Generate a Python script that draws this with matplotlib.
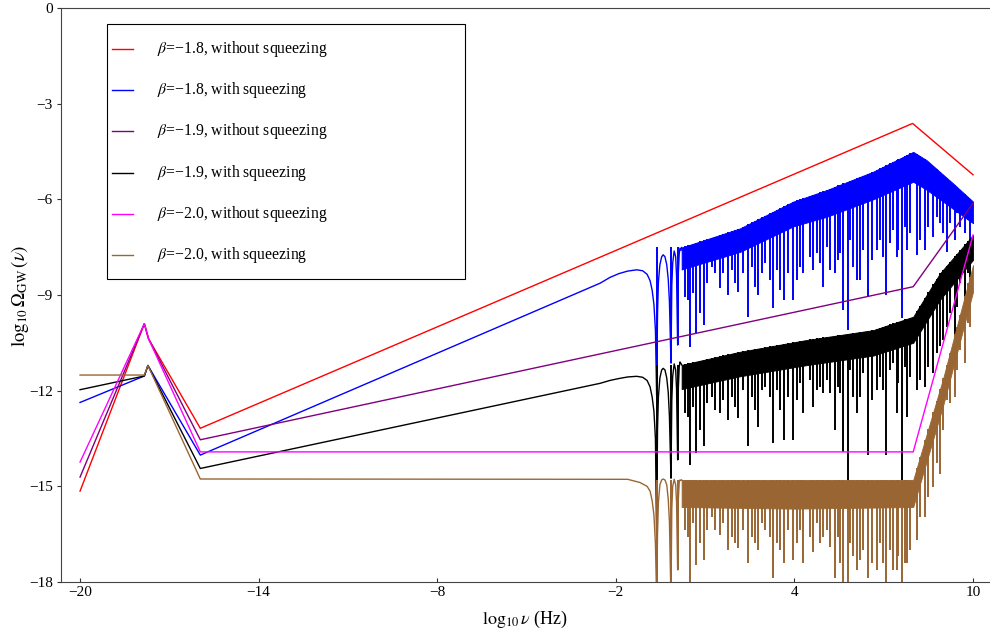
import numpy as np
import matplotlib
matplotlib.use('Agg')
import matplotlib.pyplot as plt
from matplotlib.patches import Rectangle

plt.rcParams['font.family'] = ['Liberation Serif', 'DejaVu Serif']
plt.rcParams['mathtext.fontset'] = 'stix'

# smooth parts (log10 nu, log10 Omega)
red_x = [-20, -17.84, -17.7, -15.96, 7.97, 10.0]
red_y = [-15.15, -9.9, -10.37, -13.18, -3.62, -5.23]
purple_x = [-20, -17.84, -17.7, -15.96, 7.99, 10.0]
purple_y = [-14.71, -9.9, -10.37, -13.54, -8.74, -6.12]
magenta_x = [-20, -17.84, -17.7, -15.96, 7.99, 10.0]
magenta_y = [-14.24, -9.9, -10.37, -13.92, -13.92, -7.12]

blue_x = [-20, -17.84, -17.72, -15.96, -2.53, -2.2, -1.9, -1.6, -1.3, -1.1, -0.95, -0.85, -0.78,
          -0.72, -0.67, -0.63, -0.6, -0.57, -0.52, -0.46, -0.41, -0.35, -0.29, -0.24, -0.2, -0.148,
          -0.12, -0.09, -0.04, 0.01, 0.04, 0.076, 0.1, 0.13, 0.155, 0.19, 0.21]
blue_y = [-12.37, -11.54, -11.21, -14.02, -8.63, -8.45, -8.33, -8.25, -8.21, -8.24, -8.35, -8.55,
          -8.85, -9.3, -10.1, -12.14, -9.6, -8.6, -8.05, -7.8, -7.74, -7.8, -8.05, -8.5, -9.2, -11.14,
          -8.7, -8.0, -7.62, -7.8, -8.4, -10.57, -8.3, -7.7, -7.53, -7.6, -7.51]
black_x = blue_x
black_y = [-11.97, -11.54, -11.21, -14.44, -11.77, -11.68, -11.62, -11.57, -11.55, -11.58, -11.68,
           -11.88, -12.2, -12.65, -13.5, -16.58, -13.2, -12.2, -11.6, -11.35, -11.3, -11.35, -11.6,
           -12.05, -12.8, -14.75, -12.3, -11.55, -11.16, -11.35, -11.95, -14.17, -11.9, -11.25,
           -11.1, -11.15, -11.19]
brown_x = [-20, -17.84, -17.72, -15.96, -1.6, -1.19, -0.95, -0.85, -0.78, -0.72, -0.67, -0.63,
           -0.6, -0.57, -0.52, -0.46, -0.41, -0.35, -0.29, -0.24, -0.2, -0.148, -0.12, -0.09,
           -0.04, 0.01, 0.04, 0.076, 0.1, 0.13, 0.155, 0.19, 0.21]
brown_y = [-11.51, -11.51, -11.21, -14.77, -14.78, -14.88, -15.0, -15.15, -15.45, -15.9, -16.8,
           -18.5, -16.5, -15.5, -14.95, -14.8, -14.77, -14.8, -14.95, -15.4, -16.1, -18.5, -15.7,
           -15.0, -14.78, -14.95, -15.5, -17.62, -15.4, -14.85, -14.8, -14.82, -14.8]

# oscillating bands: upper envelope and lower edge of the dense part
blue_band_x = [0.21, 2.17, 3.96, 5.08, 6.65, 7.99, 8.44, 9.33, 10.0]
blue_band_top = [-7.51, -6.91, -6.07, -5.71, -5.13, -4.51, -4.77, -5.50, -6.07]
blue_band_low = [-8.2, -7.65, -6.85, -6.55, -6.0, -5.45, -5.7, -6.3, -6.75]
black_band_x = [0.21, 2.17, 4.41, 6.65, 7.99, 8.89, 10.0]
black_band_top = [-11.19, -10.78, -10.41, -10.10, -9.68, -8.32, -7.12]
black_band_low = [-11.95, -11.55, -11.2, -10.9, -10.5, -9.15, -7.9]
brown_band_x = [0.21, 4.0, 7.99, 9.0, 10.0]
brown_band_top = [-14.8, -14.8, -14.8, -11.6, -8.06]
brown_band_low = [-15.65, -15.7, -15.65, -12.45, -8.9]

# deep dips (same positions for all squeezed curves)
spike_x = [-0.63, -0.148, 0.076, 0.49, 0.692, 0.972, 1.498, 1.778, 2.114, 2.45, 2.786, 3.29,
           3.648, 3.939, 4.298, 4.634, 4.97, 5.362, 5.641, 5.787, 6.202, 6.481, 6.761, 7.075,
           7.433, 7.601, 7.769, 8.105, 8.385, 8.665, 8.889, 9.113, 9.392, 9.728, 9.896]
blue_spike = [-12.14, -11.14, -10.57, -10.62, -10.2, -9.94, -8.79, -9.0, -8.9, -9.68, -9.0, -9.42,
              -9.16, -9.16, -8.32, -8.22, -8.74, -8.32, -9.47, -10.1, -8.53, -9.05, -7.59, -9.0,
              -7.8, -9.73, -7.59, -7.75, -7.59, -7.17, -6.75, -7.64, -7.28, -7.06, -7.28]
black_spike = [-16.58, -14.75, -14.17, -14.33, -13.94, -13.75, -12.7, -12.92, -12.86, -13.75, -13.13,
               -13.65, -13.55, -13.55, -12.7, -12.5, -12.07, -13.23, -13.91, -14.8, -12.19, -14.02,
               -11.98, -14.02, -12.71, -14.8, -12.82, -11.98, -11.87, -11.45, -10.6, -9.99, -10.41,
               -9.78, -8.74]
brown_spike = [-18.5, -18.5, -17.62, -18.5, -17.47, -17.31, -16.53, -17.0, -16.93, -17.4, -17.0,
               -17.87, -17.4, -17.31, -17.4, -17.05, -16.58, -17.87, -18.5, -18.5, -17.31, -17.87,
               -17.62, -18.5, -17.62, -18.5, -17.4, -16.68, -15.95, -15.01, -14.6, -12.29, -12.19,
               -11.14, -10.0]

# shallower dips in between
minor_x = [0.323, 0.434, 0.602, 0.826, 1.05, 1.218, 1.33, 1.61, 1.89, 2.002, 2.282, 2.562, 2.674,
           2.898, 3.01, 3.178, 3.402, 3.514, 3.794, 4.074, 4.186, 4.521, 4.745, 4.857, 5.081, 5.193,
           5.473, 5.529, 5.865, 5.977, 6.089, 6.313, 6.593, 6.873, 6.985, 7.209, 7.321, 7.489,
           7.713, 7.881, 8.216, 8.496, 8.776, 9.0, 9.224, 9.448, 9.56, 9.84]
blue_minor = [-9.05, -9.16, -8.95, -9.57, -8.63, -8.11, -8.32, -8.32, -8.22, -8.63, -8.32, -8.11,
              -8.74, -8.32, -8.01, -8.53, -8.22, -8.84, -8.32, -8.53, -8.11, -7.8, -7.69, -8.01,
              -7.48, -8.22, -7.9, -7.69, -7.27, -8.11, -8.53, -7.59, -7.9, -7.27, -7.8, -7.38,
              -6.96, -7.59, -6.86, -7.07, -7.27, -6.86, -6.54, -7.07, -6.75, -6.44, -6.86, -6.65]
black_minor = [-12.71, -12.82, -12.5, -13.23, -12.4, -12.19, -12.61, -12.29, -12.19, -12.5, -11.98,
               -12.19, -12.61, -11.98, -11.87, -12.19, -11.98, -12.61, -12.19, -12.29, -11.77,
               -11.66, -11.98, -11.87, -11.66, -12.08, -11.87, -12.08, -11.35, -12.19, -12.71,
               -11.46, -12.29, -11.56, -11.98, -11.35, -11.14, -11.77, -11.25, -11.56, -11.67,
               -11.25, -10.83, -10.41, -9.57, -9.37, -8.63, -8.32]
brown_minor = [-16.37, -16.58, -16.16, -16.79, -16.37, -15.95, -16.37, -16.16, -16.58, -16.79,
               -16.37, -16.58, -16.79, -16.16, -16.37, -16.58, -16.79, -16.99, -16.37, -16.79,
               -16.37, -16.58, -16.16, -16.79, -16.37, -16.89, -16.58, -17.41, -16.79, -17.2,
               -17.62, -16.99, -17.41, -16.79, -17.41, -16.99, -17.62, -17.2, -17.41, -16.99,
               -15.95, -15.32, -14.28, -13.23, -12.4, -11.35, -10.72, -9.89]

labels = [r'$\beta$=−1.8, without squeezing', r'$\beta$=−1.8, with squeezing',
          r'$\beta$=−1.9, without squeezing', r'$\beta$=−1.9, with squeezing',
          r'$\beta$=−2.0, without squeezing', r'$\beta$=−2.0, with squeezing']
colors = ['#ff0000', '#0000ff', '#800080', '#000000', '#ff00ff', '#996633']

fig = plt.figure(figsize=(9.9, 6.37), dpi=100)
ax = fig.add_axes([61 / 990, 55 / 637, 929 / 990, 574 / 637])
lw = 1.0


def squeezed(px, py, bx, btop, blow, sbot, mbot, color, z):
    ax.plot(px, py, color=color, lw=lw, zorder=z)
    ax.fill_between(bx, blow, btop, color=color, lw=0.6, zorder=z)
    ax.vlines(minor_x, mbot, np.interp(minor_x, bx, btop), color=color, lw=1.4, zorder=z)
    ax.vlines(spike_x, sbot, np.interp(spike_x, bx, btop), color=color, lw=1.4, zorder=z)


ax.plot(red_x, red_y, color=colors[0], lw=lw, zorder=1)
squeezed(blue_x, blue_y, blue_band_x, blue_band_top, blue_band_low, blue_spike, blue_minor, colors[1], 2)
ax.plot(purple_x, purple_y, color=colors[2], lw=lw, zorder=3)
squeezed(black_x, black_y, black_band_x, black_band_top, black_band_low, black_spike, black_minor,
         colors[3], 4)
ax.plot(magenta_x, magenta_y, color=colors[4], lw=lw, zorder=5)
squeezed(brown_x, brown_y, brown_band_x, brown_band_top, brown_band_low, brown_spike, brown_minor,
         colors[5], 6)

ax.set_xlim(-20.64, 10.57)
ax.set_ylim(-18, 0)
ax.set_xticks([-20, -14, -8, -2, 4, 10])
ax.set_yticks([-18, -15, -12, -9, -6, -3, 0])
ax.tick_params(axis='x', direction='in', length=3, width=0.8, labelsize=11, pad=3, colors='#333333',
               labelcolor='black')
ax.tick_params(axis='y', direction='out', length=3, width=0.8, labelsize=11, pad=3, colors='#333333',
               labelcolor='black')
for s in ['left', 'bottom', 'top']:
    ax.spines[s].set_color('#444444')
    ax.spines[s].set_linewidth(0.8)
ax.spines['right'].set_visible(False)

ax.set_xlabel(r'$\log_{10}\nu$ (Hz)', fontsize=13, va='center')
ax.xaxis.set_label_coords(0.5, -0.0645)
ax.set_ylabel(r'$\log_{10}\Omega_{\rm GW}\,(\nu)$', fontsize=13.5, va='center')
ax.yaxis.set_label_coords(-0.0441, 0.498)

# legend box drawn by hand to match the wide frame
fx = lambda p: p / 990
fy = lambda p: 1 - p / 637
fig.add_artist(Rectangle((fx(107), fy(279)), fx(465) - fx(107), fy(24) - fy(279),
                         transform=fig.transFigure, facecolor='white', edgecolor='black',
                         lw=0.8, zorder=10))
for i, (lab, c) in enumerate(zip(labels, colors)):
    yy = fy(49 + 41.2 * i)
    fig.add_artist(plt.Line2D([fx(112), fx(133)], [yy, yy], transform=fig.transFigure,
                              color=c, lw=lw, zorder=11))
    fig.text(fx(157), yy, lab, fontsize=11.3, va='center', ha='left', zorder=11)

fig.savefig('out.png', dpi=100)
